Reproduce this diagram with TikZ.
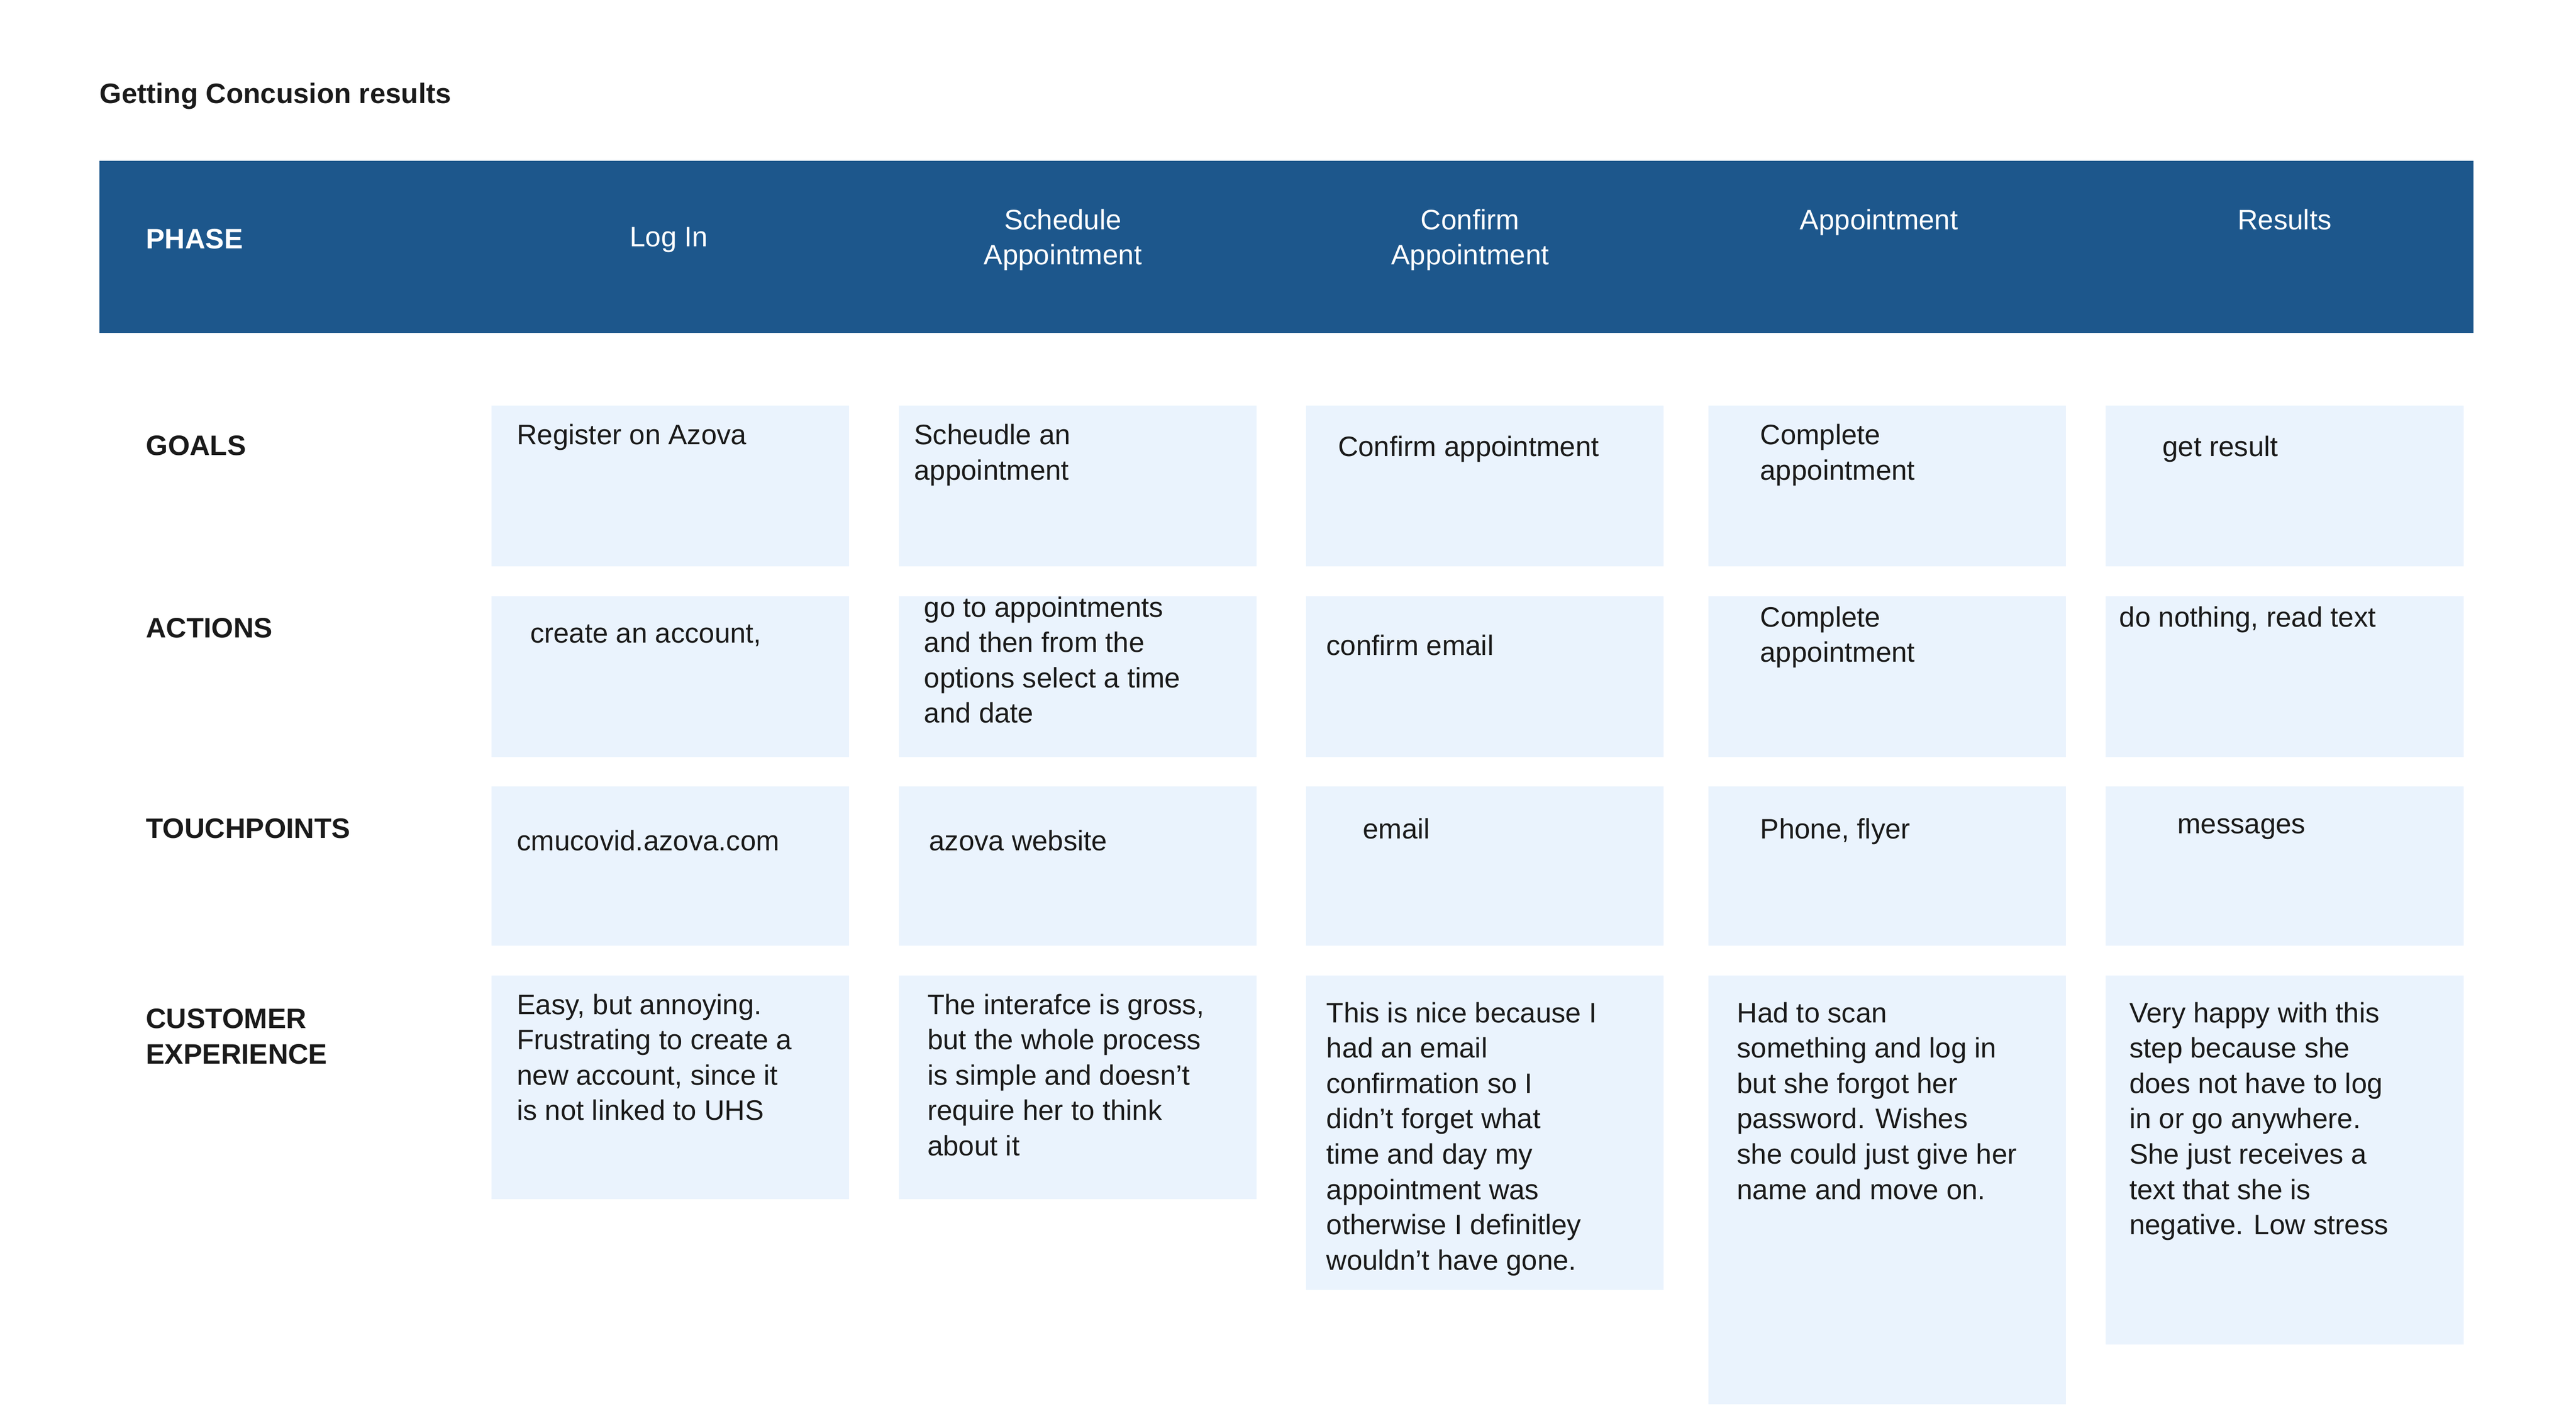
\documentclass[tikz,border=0pt]{standalone}
\usepackage{fontspec}
\setmainfont{Liberation Sans}
\definecolor{hdr}{HTML}{1D578C}
\definecolor{cell}{HTML}{EAF3FD}
\definecolor{ink}{HTML}{1A1A1A}
\begin{document}
\begin{tikzpicture}[x=0.3mm,y=-0.3mm,
 txt/.style={anchor=north west,inner sep=0pt,align=left,text=ink,font=\fontsize{14.5}{18.2}\selectfont},
 lab/.style={txt,font=\fontsize{14.5}{18.2}\selectfont\bfseries},
 hd/.style={inner sep=0pt,align=center,text=white,font=\fontsize{14.5}{18.2}\selectfont},
 cellbox/.style={fill=cell,draw=none}]
\useasboundingbox (0,0) rectangle (1556,852);
\node[lab] (title) at (60,50) {Getting Concusion results};
\fill[hdr] (60,97) rectangle (1494,201);
\node[lab,text=white] (phase) at (88,138) {PHASE};
\node[hd,anchor=north] (h1) at (404,137) {Log In};
\node[hd,anchor=north] (h2) at (642,126) {Schedule\\Appointment};
\node[hd,anchor=north] (h3) at (888,126) {Confirm\\Appointment};
\node[hd,anchor=north] (h4) at (1135,126) {Appointment};
\node[hd,anchor=north] (h5) at (1380,126) {Results};
% boxes
\foreach \x [count=\i] in {297,543,789,1032,1272}{
  \fill[cell] (\x,245) rectangle ++(216,97);
  \fill[cell] (\x,360) rectangle ++(216,97);
  \fill[cell] (\x,475) rectangle ++(216,96);
}
\fill[cell] (297,589) rectangle (513,724);
\fill[cell] (543,589) rectangle (759,724);
\fill[cell] (789,589) rectangle (1005,779);
\fill[cell] (1032,589) rectangle (1248,848);
\fill[cell] (1272,589) rectangle (1488,812);
% row labels
\node[lab] (rg) at (88,263) {GOALS};
\node[lab] (ra) at (88,373) {ACTIONS};
\node[lab] (rt) at (88,494) {TOUCHPOINTS};
\node[lab] (rc) at (88,609) {CUSTOMER\\EXPERIENCE};
% goals
\node[txt] (g1) at (312,256) {Register on Azova};
\node[txt] (g2) at (552,256) {Scheudle an\\appointment};
\node[txt] (g3) at (808,263) {Confirm appointment};
\node[txt] (g4) at (1063,256) {Complete\\appointment};
\node[txt] (g5) at (1306,263) {get result};
% actions
\node[txt] (a1) at (320,377) {create an account,};
\node[txt] (a2) at (558,360) {go to appointments\\and then from the\\options select a time\\and date};
\node[txt] (a3) at (801,383) {confirm email};
\node[txt] (a4) at (1063,366) {Complete\\appointment};
\node[txt] (a5) at (1280,366) {do nothing, read text};
% touchpoints
\node[txt] (t1) at (312,501) {cmucovid.azova.com};
\node[txt] (t2) at (561,501) {azova website};
\node[txt] (t3) at (823,494) {email};
\node[txt] (t4) at (1063,494) {Phone, flyer};
\node[txt] (t5) at (1315,494) {messages};
% experience
\node[txt] (c1) at (312,600) {Easy, but annoying.\\Frustrating to create a\\new account, since it\\is not linked to UHS};
\node[txt] (c2) at (560,600) {The interafce is gross,\\but the whole process\\is simple and doesn't\\require her to think\\about it};
\node[txt] (c3) at (801,605) {This is nice because I\\had an email\\confirmation so I\\didn't forget what\\time and day my\\appointment was\\otherwise I definitley\\wouldn't have gone.};
\node[txt] (c4) at (1049,605) {Had to scan\\something and log in\\but she forgot her\\password. Wishes\\she could just give her\\name and move on.};
\node[txt] (c5) at (1286,605) {Very happy with this\\step because she\\does not have to log\\in or go anywhere.\\She just receives a\\text that she is\\negative. Low stress};
\end{tikzpicture}
\end{document}
